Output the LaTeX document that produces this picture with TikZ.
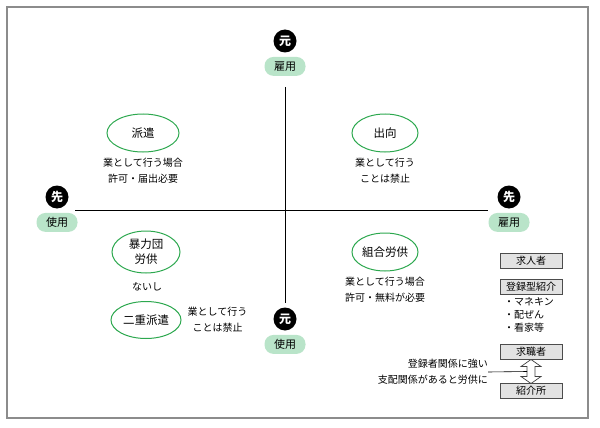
\documentclass[tikz,border=0pt]{standalone}
\usepackage{fontspec}
\setmainfont{Noto Sans CJK JP}
\usetikzlibrary{arrows.meta, positioning, shapes.geometric, calc}
\definecolor{kgreen}{HTML}{2DA84F}
\definecolor{kmint}{HTML}{B9E4C9}
\definecolor{kframe}{HTML}{8C8C8C}
\definecolor{kbox}{HTML}{E2E2E2}

\begin{document}
\begin{tikzpicture}[
    x=1pt, y=-1pt,
    font=\fontsize{10}{16}\selectfont,
    endmark/.style={circle, fill=black, text=white, minimum size=23pt, inner sep=0pt, font=\fontsize{12}{12}\selectfont\bfseries},
    pill/.style={rectangle, rounded corners=9pt, fill=kmint, minimum width=41pt, minimum height=19pt, inner sep=0pt, font=\fontsize{11}{11}\selectfont},
    kind/.style={ellipse, draw=kgreen, line width=1pt, minimum width=68pt, minimum height=38pt, inner sep=0pt, align=center, font=\fontsize{11.5}{15}\selectfont},
    note/.style={align=center, inner sep=0pt},
    sidebox/.style={rectangle, draw=black!70, fill=kbox, minimum width=62pt, minimum height=15pt, inner sep=0pt},
    axis/.style={line width=0.8pt},
    dblarrow/.style={draw=black!75, fill=white, line width=0.7pt, line join=miter}
]
\useasboundingbox (0,0) rectangle (600,428);
\draw[kframe, line width=1.2pt] (7,7) rectangle (588,418);

% axis ends
\node[endmark] (topmark) at (285,41) {元};
\node[pill, below=4pt of topmark] (topemp) {雇用};
\node[endmark] (botmark) at (285,319) {元};
\node[pill, below=4pt of botmark] (botuse) {使用};
\node[endmark] (leftmark) at (57,197) {先};
\node[pill, below=4pt of leftmark] (leftuse) {使用};
\node[endmark] (rightmark) at (509,197) {先};
\node[pill, below=4pt of rightmark] (rightemp) {雇用};

\coordinate (north) at (285,87);
\coordinate (south) at (285,303);
\coordinate (west) at (75,210);
\coordinate (east) at (488,210);
\draw[axis] (north) -- (south);
\draw[axis] (west) -- (east);

% quadrants
\node[kind, minimum width=72pt] (haken) at (143,133) {派遣};
\node[note, below=5pt of haken] (hakennote) {業として行う場合\\許可・届出必要};
\node[kind, minimum width=66pt] (shukko) at (385,133) {出向};
\node[note, below=5pt of shukko] (shukkonote) {業として行う\\ことは禁止};

\node[kind, minimum width=68pt, minimum height=42pt] (boryoku) at (146,252) {暴力団\\労供};
\node[note] (naishi) at (147,287) {ないし};
\node[kind, minimum width=70pt, minimum height=37pt] (nijuhaken) at (146,320) {二重派遣};
\node[note, right=6pt of nijuhaken] (nijunote) {業として行う\\ことは禁止};

\node[kind, minimum width=66pt] (kumiai) at (385,252) {組合労供};
\node[note, below=5pt of kumiai] (kumiainote) {業として行う場合\\許可・無料が必要};

% right column
\node[sidebox] (employer) at (531,261) {求人者};
\node[sidebox, below=10pt of employer] (regtype) {登録型紹介};
\node[note, align=left, anchor=north west, font=\fontsize{10}{13}\selectfont] (jobs) at (504,297) {・マネキン\\・配ぜん\\・看家等};
\node[sidebox] (seeker) at (531,352) {求職者};
\node[sidebox] (agency) at (531,391) {紹介所};

% hollow double arrow between seeker and agency
\coordinate (dbl) at ($(seeker.south)!0.5!(agency.north)$);
\draw[dblarrow, shift={(dbl)}] (0,-12) -- (10,-5) -- (4,-5) -- (4,5) -- (10,5) -- (0,12)
    -- (-10,5) -- (-4,5) -- (-4,-5) -- (-10,-5) -- cycle;

\node[note, align=right, anchor=east] (dominance) at (488,372) {登録者関係に強い\\支配関係があると労供に};
\coordinate (joint) at ($(dbl)+(-4,0)$);
\draw[line width=0.6pt] (dominance.east) -- (joint);
\end{tikzpicture}
\end{document}
